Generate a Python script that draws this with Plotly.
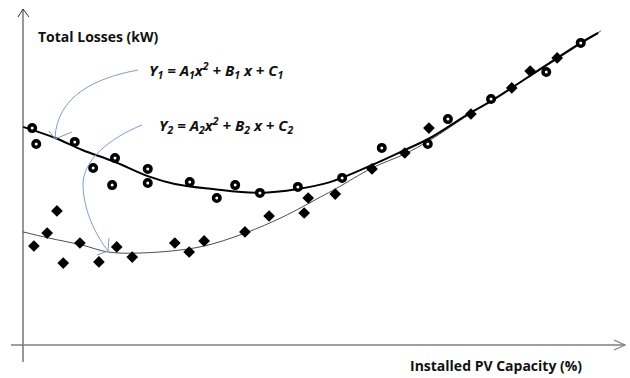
import plotly.graph_objects as go

# Measured total losses (kW) against installed PV capacity (%)
# Case 1 (ring markers)
pv_case1 = [1.6, 2.3, 9.0, 12.2, 15.5, 16.0, 21.7, 21.7, 29.0, 33.7,
            36.9, 41.2, 47.8, 55.5, 62.4, 70.4, 73.9, 81.4, 91.0, 97.0]
loss_case1 = [72.3, 67.0, 67.7, 59.0, 53.3, 62.3, 58.7, 54.0, 54.3, 49.0,
              53.3, 50.7, 52.7, 55.7, 65.7, 67.0, 75.3, 82.0, 91.0, 100.7]

# Case 2 (diamond markers)
pv_case2 = [1.9, 4.2, 5.9, 7.0, 9.9, 13.2, 16.3, 19.0, 26.4, 28.9, 31.5, 38.6,
            42.8, 48.9, 49.6, 54.3, 60.7, 66.4, 70.6, 77.9, 85.0, 88.2, 92.9]
loss_case2 = [33.0, 37.3, 44.7, 27.3, 34.0, 27.7, 32.7, 29.3, 34.0, 31.0, 34.7, 37.7,
              43.0, 44.0, 49.0, 50.3, 58.7, 64.0, 72.3, 77.0, 85.7, 91.3, 95.7]

# Fitted trend curves Y1 and Y2
fit1_pv = [0.0, 5.6, 10.3, 16.0, 21.7, 26.4, 33.0, 41.2, 47.8, 53.4,
           60.7, 66.4, 70.8, 77.7, 81.4, 91.0, 97.0, 100.0]
fit1_loss = [72.7, 69.0, 65.0, 61.0, 56.3, 53.7, 52.0, 50.7, 52.0, 54.3,
             60.0, 65.0, 69.0, 77.3, 81.3, 93.3, 100.7, 104.0]
fit2_pv = [0.0, 4.4, 10.3, 14.8, 20.9, 30.8, 38.6, 45.2, 51.7, 54.6,
           60.7, 66.4, 70.8, 77.7, 85.0, 92.9, 100.5]
fit2_loss = [37.7, 35.7, 33.3, 31.0, 30.7, 32.7, 37.3, 42.7, 49.3, 52.3,
             59.0, 63.7, 68.3, 77.0, 85.7, 95.3, 104.7]

W, H = 630, 378
X0_PX, X_SCALE = 23, 5.75   # pixel of 0 % and pixels per %
Y0_PX, Y_SCALE = 345, 3.0   # pixel of 0 kW and pixels per kW
x_range = [-X0_PX / X_SCALE, (W - X0_PX) / X_SCALE]
y_range = [(Y0_PX - H) / Y_SCALE, Y0_PX / Y_SCALE]


def px(x, y):
    """Screen position -> axis units, for drawing decorations."""
    return (x - X0_PX) / X_SCALE, (Y0_PX - y) / Y_SCALE


def path(cmds):
    out = []
    for c in cmds:
        if isinstance(c, str):
            out.append(c)
        else:
            xx, yy = px(*c)
            out.append(f"{xx:.4f},{yy:.4f}")
    return " ".join(out)


fig = go.Figure()

fig.add_trace(go.Scatter(x=fit2_pv, y=fit2_loss, mode="lines",
                         line=dict(color="#4d4d4d", width=1, shape="spline"),
                         hoverinfo="skip"))
fig.add_trace(go.Scatter(x=fit1_pv, y=fit1_loss, mode="lines",
                         line=dict(color="black", width=2, shape="spline"),
                         hoverinfo="skip"))
fig.add_trace(go.Scatter(x=pv_case1, y=loss_case1, mode="markers",
                         marker=dict(symbol="circle", size=6.5, color="white",
                                     line=dict(color="black", width=3.5))))
fig.add_trace(go.Scatter(x=pv_case2, y=loss_case2, mode="markers",
                         marker=dict(symbol="diamond", size=9, color="black",
                                     line=dict(width=0))))

shapes = []
axis_col = "#333333"
# vertical axis with open arrow head
shapes.append(dict(type="path", path=path(["M", (23, 362), "L", (23, 9)]),
                   line=dict(color=axis_col, width=1)))
shapes.append(dict(type="path", path=path(["M", (18, 17), "L", (23, 9), "L", (29, 17)]),
                   line=dict(color=axis_col, width=1)))
# horizontal axis with open arrow head
hcol = "#7f7f7f"
shapes.append(dict(type="path", path=path(["M", (11, 345), "L", (625, 345)]),
                   line=dict(color=hcol, width=1.5)))
shapes.append(dict(type="path", path=path(["M", (614, 340), "L", (625, 345), "L", (614, 350)]),
                   line=dict(color=hcol, width=1.2)))

# callout arrows pointing at the two fitted curves
blue = "#7f9ccb"
shapes.append(dict(type="path",
                   path=path(["M", (138, 70), "C", (95, 78), (57, 96), (55, 138)]),
                   line=dict(color=blue, width=1)))
shapes.append(dict(type="path",
                   path=path(["M", (49, 131), "L", (55, 139), "L", (72, 132)]),
                   line=dict(color=blue, width=1)))
shapes.append(dict(type="path",
                   path=path(["M", (142, 125), "C", (110, 138), (82, 160), (83, 186),
                              "C", (84, 214), (98, 238), (108, 251)]),
                   line=dict(color=blue, width=1)))
shapes.append(dict(type="path",
                   path=path(["M", (109, 238), "L", (108, 251), "L", (97, 255)]),
                   line=dict(color=blue, width=1)))

font_txt = "'Open Sans', Lato, sans-serif"
annotations = [
    dict(x=px(98, 36)[0], y=px(98, 36)[1], text="<b>Total Losses (kW)</b>",
         showarrow=False, font=dict(family=font_txt, size=14, color="#111111"),
         xanchor="center", yanchor="middle"),
    dict(x=px(496, 365)[0], y=px(496, 365)[1], text="<b>Installed PV Capacity (%)</b>",
         showarrow=False, font=dict(family=font_txt, size=14, color="#111111"),
         xanchor="center", yanchor="middle"),
    dict(x=px(147, 70)[0], y=px(147, 70)[1],
         text="<b><i>Y<sub>1</sub> = A<sub>1</sub>x<sup>2</sup> + B<sub>1</sub> x + C<sub>1</sub></i></b>",
         showarrow=False, font=dict(family=font_txt, size=15, color="#111111"),
         xanchor="left", yanchor="middle"),
    dict(x=px(157, 125)[0], y=px(157, 125)[1],
         text="<b><i>Y<sub>2</sub> = A<sub>2</sub>x<sup>2</sup> + B<sub>2</sub> x + C<sub>2</sub></i></b>",
         showarrow=False, font=dict(family=font_txt, size=15, color="#111111"),
         xanchor="left", yanchor="middle"),
]

fig.update_layout(
    width=W, height=H,
    margin=dict(l=0, r=0, t=0, b=0),
    paper_bgcolor="white", plot_bgcolor="white",
    showlegend=False,
    xaxis=dict(range=x_range, visible=False, fixedrange=True),
    yaxis=dict(range=y_range, visible=False, fixedrange=True),
    shapes=shapes,
    annotations=annotations,
)

fig.write_html("out.html", config={"displayModeBar": False})
